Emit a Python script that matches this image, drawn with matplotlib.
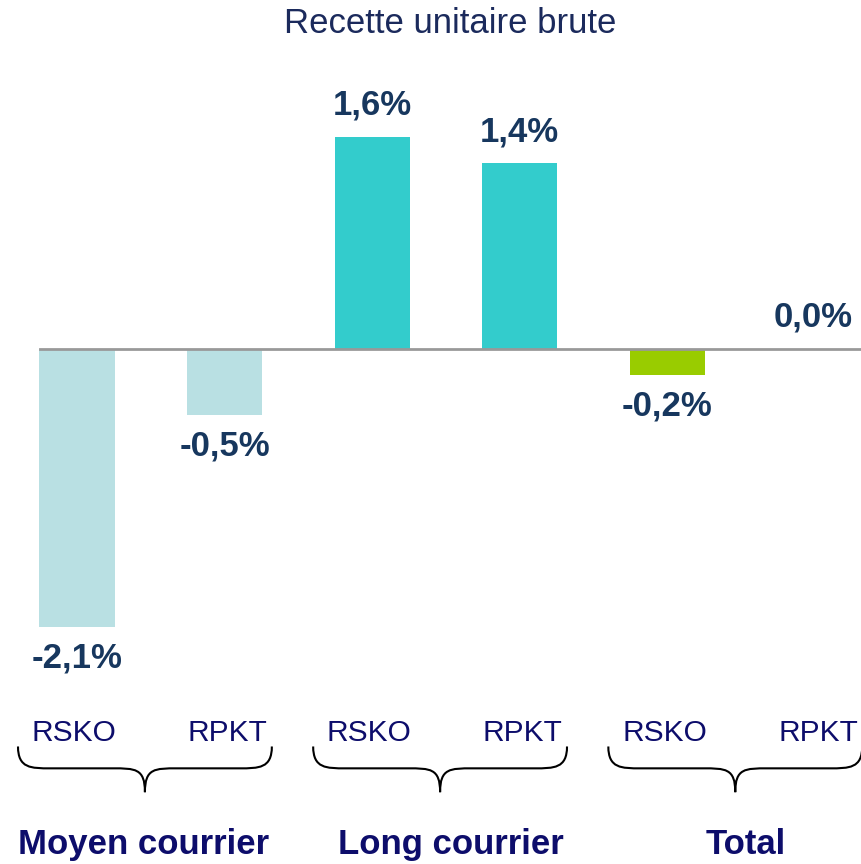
import matplotlib
matplotlib.use('Agg')
import matplotlib.pyplot as plt
from matplotlib.path import Path
from matplotlib.patches import PathPatch

# données
title = "Recette unitaire brute"
metrics = ["RSKO", "RPKT", "RSKO", "RPKT", "RSKO", "RPKT"]
groups = ["Moyen courrier", "Long courrier", "Total"]
values = [-2.1, -0.5, 1.6, 1.4, -0.2, 0.0]
labels = ["-2,1%", "-0,5%", "1,6%", "1,4%", "-0,2%", "0,0%"]
colors = ["#B9E0E3", "#B9E0E3", "#33CCCC", "#33CCCC", "#99CC00", "#99CC00"]

plt.rcParams['font.family'] = ['Liberation Sans', 'DejaVu Sans']
navy = "#17375E"
blue = "#0D0D6B"

fig = plt.figure(figsize=(8.61, 8.64), dpi=100)
ax = fig.add_axes([0, 0, 1, 1])
ax.set_xlim(-0.522, 5.312)
ax.set_ylim(-3.887, 2.634)
ax.axis('off')

x = list(range(len(values)))
ax.bar(x, values, width=0.51, color=colors, zorder=2)
ax.plot([-0.25, 5.312], [0, 0], color="#999999", lw=2, zorder=3)

# étiquettes de valeur
for xi, v, lab in zip(x, values, labels):
    off = 23 if v >= 0 else -22
    ax.annotate(lab, (xi, v), xytext=(-1 if v == 0 else 0, off), textcoords='offset points',
                ha='center', va='center', fontsize=25, fontweight='bold', color=navy)

fig.text(0.523, 0.973, title, ha='center', va='center', fontsize=25, color="#1B2A5C")

# libellés RSKO / RPKT
for xi, m in zip(x, metrics):
    dx = -0.02 if xi % 2 == 0 else 0.02
    ax.text(xi + dx, -2.9, m, ha='center', va='center', fontsize=21.5, color=blue)


def brace(ax, left, right, top, mid, tip):
    c = (left + right) / 2
    r = 0.22
    verts = [(left, top), (left, mid), (left + r * 0.4, mid), (left + r, mid),
             (c - r, mid),
             (c - r * 0.3, mid), (c, mid), (c, tip),
             (c, mid), (c + r * 0.3, mid), (c + r, mid),
             (right - r, mid),
             (right - r * 0.4, mid), (right, mid), (right, top)]
    codes = [Path.MOVETO, Path.CURVE4, Path.CURVE4, Path.CURVE4,
             Path.LINETO,
             Path.CURVE4, Path.CURVE4, Path.CURVE4,
             Path.CURVE4, Path.CURVE4, Path.CURVE4,
             Path.LINETO,
             Path.CURVE4, Path.CURVE4, Path.CURVE4]
    ax.add_patch(PathPatch(Path(verts, codes), fill=False, lw=1.5, color='black',
                           clip_on=False))


for g, name in enumerate(groups):
    c = 2 * g + 0.5 - 0.04
    brace(ax, c - 0.86, c + 0.86, -3.0, -3.165, -3.345)
    ax.text(c + (0.07 if g else -0.01), -3.74, name, ha='center', va='center',
            fontsize=25, fontweight='bold', color=blue)

fig.savefig("out.png", dpi=100)
